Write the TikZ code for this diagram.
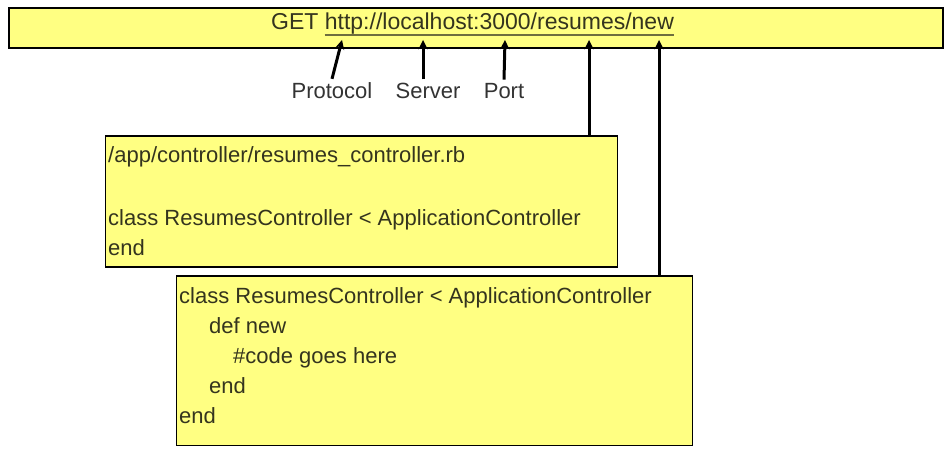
\documentclass[tikz,border=0pt]{standalone}
\usepackage{fontspec}
\setmainfont{Liberation Sans}
\usetikzlibrary{shapes,arrows,positioning}
\definecolor{notepad}{RGB}{255,255,130}
\definecolor{ink}{RGB}{52,52,30}
\definecolor{lineink}{RGB}{110,110,62}
\tikzstyle{note} = [rectangle, draw=black, line width=1.6pt, fill=notepad, anchor=north west, inner sep=0pt]
\tikzstyle{code} = [inner sep=0pt, text=ink, align=left, font=\fontsize{22}{30}\selectfont]
\tikzstyle{tag} = [inner sep=4pt, anchor=base, text=black!80, font=\fontsize{22}{26}\selectfont]
\tikzstyle{arrow} = [line width=3pt,->,>=stealth]

\begin{document}
\begin{tikzpicture}[x=1pt,y=-1pt]
	\useasboundingbox (0,0) rectangle (950,454);
	% request line
	\node[note, minimum width=934pt, minimum height=40pt] (request) at (8,7) {};
	\node[code, anchor=base west, font=\fontsize{23}{30}\selectfont] (get) at (271,30) {GET};
	\node[code, right=6pt of get.base east, anchor=base west, font=\fontsize{23}{30}\selectfont] (url) {http://localhost:3000/resumes/new};
	\draw[lineink, line width=1.4pt] ([yshift=-5pt]url.base west) -- ([yshift=-5pt]url.base east);
	
	\coordinate (protocolhit) at (342,40);
	\coordinate (serverhit) at (423,40);
	\coordinate (porthit) at (505,40);
	\coordinate (resumeshit) at (589,40);
	\coordinate (newhit) at (659,40);
	
	\node[tag] (protocol) at (332,99) {Protocol};
	\node[tag] (server) at (428,99) {Server};
	\node[tag] (port) at (504,99) {Port};
	
	% the two files
	\node[note, minimum width=512pt, minimum height=131pt] (controller) at (104.5,135.5) {};
	\node[code, anchor=north west] (controllercode) at (108,146) {/app/controller/resumes\_controller.rb\\[33pt]
		class ResumesController < ApplicationController\\
		end};
	\node[note, minimum width=516pt, minimum height=169pt] (action) at (175.5,275.5) {};
	\node[code, anchor=north west] (actioncode) at (179,287) {class ResumesController < ApplicationController\\
		\hspace*{30pt}def new\\
		\hspace*{54pt}\#code goes here\\
		\hspace*{30pt}end\\
		end};
	
	\draw[arrow] (protocol.north) -- (protocolhit);
	\draw[arrow] (server.north -| serverhit) -- (serverhit);
	\draw[arrow] (port.north) -- (porthit);
	\draw[arrow] (controller.north -| resumeshit) -- (resumeshit);
	\draw[arrow] (action.north -| newhit) -- (newhit);
\end{tikzpicture}
\end{document}
